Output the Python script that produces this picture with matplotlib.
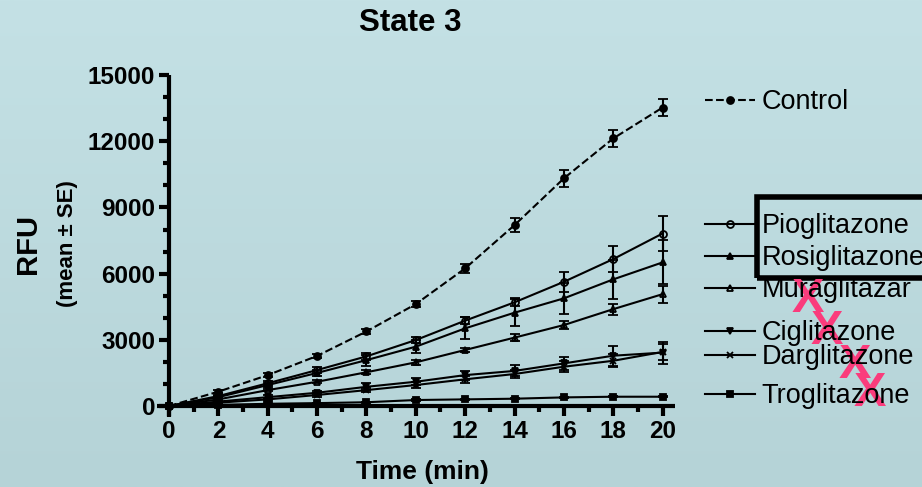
import numpy as np
import matplotlib.pyplot as plt
from matplotlib.legend import Legend
from matplotlib.patches import Rectangle

plt.rcParams['font.family'] = ['Liberation Sans', 'DejaVu Sans']

# データ (RFU, mean ± SE)
time = [0, 2, 4, 6, 8, 10, 12, 14, 16, 18, 20]
control = [0, 650, 1400, 2270, 3380, 4620, 6240, 8200, 10320, 12130, 13530]
control_se = [0, 60, 80, 90, 100, 120, 200, 320, 370, 400, 380]
pio = [0, 450, 1030, 1630, 2250, 2990, 3870, 4700, 5630, 6660, 7820]
pio_se = [0, 60, 100, 120, 150, 150, 150, 180, 450, 600, 800]
rosi = [0, 400, 950, 1500, 2080, 2690, 3520, 4230, 4880, 5740, 6510]
rosi_se = [0, 60, 100, 150, 250, 300, 500, 600, 700, 900, 1000]
mura = [0, 300, 720, 1100, 1530, 1980, 2540, 3100, 3670, 4390, 5070]
mura_se = [0, 40, 60, 80, 100, 100, 100, 150, 200, 250, 380]
cigli = [0, 200, 400, 600, 870, 1100, 1400, 1590, 1930, 2280, 2420]
cigli_se = [0, 40, 80, 100, 150, 150, 200, 250, 300, 450, 500]
dargli = [0, 150, 300, 500, 720, 950, 1210, 1450, 1780, 2050, 2450]
dargli_se = [0, 30, 60, 80, 100, 120, 150, 200, 250, 300, 350]
troglit = [0, 50, 100, 130, 170, 270, 300, 330, 390, 420, 420]
troglit_se = [0, 20, 20, 20, 30, 30, 30, 30, 30, 30, 30]

series = [
    ('Control', control, control_se, 'o', 'k', '--'),
    ('Pioglitazone', pio, pio_se, 'o', 'none', '-'),
    ('Rosiglitazone', rosi, rosi_se, '^', 'k', '-'),
    ('Muraglitazar', mura, mura_se, '^', 'none', '-'),
    ('Ciglitazone', cigli, cigli_se, 'v', 'k', '-'),
    ('Darglitazone', dargli, dargli_se, 'x', 'k', '-'),
    ('Troglitazone', troglit, troglit_se, 's', 'k', '-'),
]
# 凡例のy位置 (ピクセル)
legend_y = [102, 226, 258, 290, 333, 357, 396]

fig = plt.figure(figsize=(9.22, 4.87), dpi=100)

# 背景グラデーション
bg = fig.add_axes([0, 0, 1, 1], zorder=-10)
grad = np.linspace(0, 1, 256).reshape(-1, 1)
top = np.array([196, 225, 229]) / 255
bottom = np.array([181, 211, 215]) / 255
img = top + (bottom - top) * grad[:, :, None]
bg.imshow(img, aspect='auto', extent=[0, 1, 0, 1])
bg.axis('off')

ax = fig.add_axes([0.170, 0.1437, 0.562, 0.702])
ax.patch.set_alpha(0)

handles = []
for name, vals, se, mk, fc, ls in series:
    cont = ax.errorbar(time, vals, yerr=se, color='k', marker=mk, markersize=5,
                       markerfacecolor=fc, markeredgewidth=1.3, linestyle=ls,
                       linewidth=1.5, capsize=3.5, elinewidth=1.5, capthick=1.5)
    handles.append(cont[0])

ax.set_xlim(-0.5, 20.5)
ax.set_ylim(-500, 15000)
ax.spines['left'].set_position(('data', 0))
ax.spines['bottom'].set_position(('data', 0))
ax.spines['right'].set_visible(False)
ax.spines['top'].set_visible(False)
for s in ['left', 'bottom']:
    ax.spines[s].set_linewidth(3)
    ax.spines[s].set_capstyle('butt')

ax.set_xticks(range(0, 21, 2))
ax.set_xticks(range(0, 21), minor=True)
ax.set_yticks(range(0, 15001, 3000))
ax.set_yticks(range(0, 15001, 1000), minor=True)
ax.tick_params(which='major', length=7, width=3, labelsize=17.5, pad=3)
ax.tick_params(which='minor', length=4.5, width=3)
for lab in ax.get_xticklabels() + ax.get_yticklabels():
    lab.set_fontweight('bold')

ax.set_xlabel('Time (min)', fontsize=19, fontweight='bold')
ax.xaxis.set_label_coords(0.512, -0.125)
fig.text(0.445, 0.953, 'State 3', fontsize=22.5, fontweight='bold', ha='center', va='center')
fig.text(0.030, 0.50, 'RFU', fontsize=21, fontweight='bold', rotation=90, ha='center', va='center')
fig.text(0.073, 0.50, '(mean ± SE)', fontsize=16, fontweight='bold', rotation=90, ha='center', va='center')

# 凡例 (各項目を個別に配置)
for h, (name, *_), yp in zip(handles, series, legend_y):
    leg = Legend(fig, [h], [name], loc='center left',
                 bbox_to_anchor=(705 / 922, 1 - yp / 487), bbox_transform=fig.transFigure,
                 frameon=False, fontsize=19.5, handlelength=1.85, handletextpad=0.25,
                 borderpad=0, borderaxespad=0, numpoints=1)
    fig.add_artist(leg)

# 強調の枠
fig.add_artist(Rectangle((757 / 922, 1 - 278 / 487), 0.3, 81 / 487, transform=fig.transFigure,
                         fill=False, edgecolor='k', linewidth=4))

# ピンクの×印
for xp, yp in [(808, 300), (827, 331), (855, 366), (870, 393)]:
    fig.text(xp / 922, 1 - yp / 487, 'X', color='#fa3c7c', fontsize=35, fontweight='bold',
             ha='center', va='center')

fig.savefig('out.png', dpi=100)
